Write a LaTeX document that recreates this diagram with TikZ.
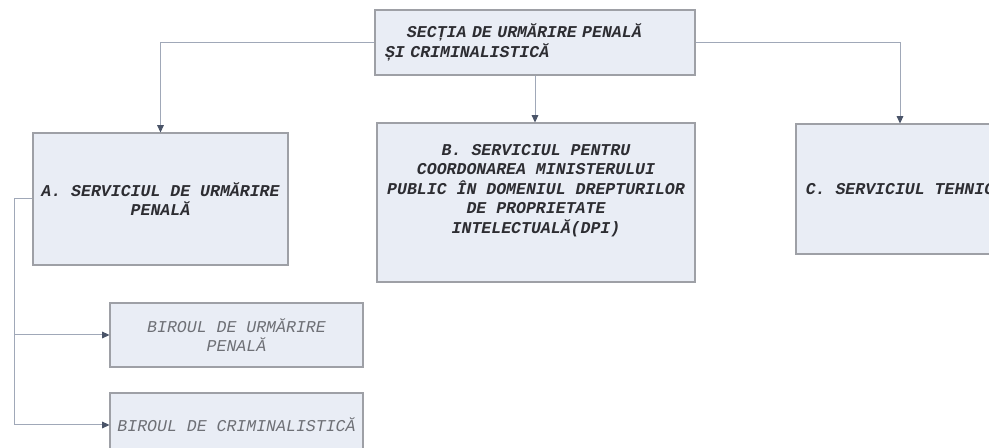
\documentclass[tikz,border=0pt]{standalone}
\usepackage{fontspec}
\newfontfamily\boxfont{Liberation Mono}
\usetikzlibrary{arrows.meta}
\definecolor{boxfill}{RGB}{233,237,245}
\definecolor{boxline}{RGB}{158,160,166}
\definecolor{connline}{RGB}{160,168,184}
\definecolor{tipcol}{RGB}{74,84,104}
\definecolor{maintext}{RGB}{45,45,50}
\definecolor{lighttext}{RGB}{110,112,118}
\tikzset{
  orgbox/.style={draw=boxline, line width=0.8pt, fill=boxfill, rectangle, inner sep=0pt,
    font=\boxfont\bfseries\itshape\fontsize{12.4}{14.6}\selectfont, text=maintext, align=center},
  officebox/.style={orgbox, font=\boxfont\itshape\fontsize{12.4}{14.6}\selectfont, text=lighttext},
  conn/.style={draw=connline, line width=0.75pt},
  arr/.style={conn, -{Triangle[length=5.5pt,width=5pt,color=tipcol]}}
}
\begin{document}
\begin{tikzpicture}[x=0.75pt,y=-0.75pt]
\useasboundingbox (0,0) rectangle (989,448);
\clip (0,0) rectangle (989,448);

\node[orgbox, minimum width=240pt, minimum height=48.75pt, text width=225pt, align=left]
  (top) at (535,42.5) {\hspace*{1.33em}SECȚIA DE URMĂRIRE PENALĂ\\ȘI CRIMINALISTICĂ};

\node[orgbox, minimum width=191.25pt, minimum height=99pt]
  (A) at (160.5,199) {A. SERVICIUL DE URMĂRIRE\\PENALĂ};

\node[orgbox, minimum width=238.5pt, minimum height=119.25pt]
  (B) at (536,202.5) {B. SERVICIUL PENTRU\\COORDONAREA MINISTERULUI\\PUBLIC ÎN DOMENIUL DREPTURILOR\\DE PROPRIETATE\\INTELECTUALĂ(DPI)\\[6pt]};

\node[orgbox, minimum width=156pt, minimum height=97.5pt]
  (C) at (900,189) {C. SERVICIUL TEHNIC};

\node[officebox, minimum width=189.75pt, minimum height=48pt]
  (b1) at (236.5,335) {BIROUL DE URMĂRIRE\\PENALĂ};

\node[officebox, minimum width=189.75pt, minimum height=48pt]
  (b2) at (236.5,425) {BIROUL DE CRIMINALISTICĂ};

\coordinate (jn) at (14,199);

\draw[arr] (top.west) -| (A.north);
\draw[arr] (top.east) -| (C.north);
\draw[arr] (top.south) -- (top.south |- B.north);
\draw[conn] (A.west) -- (jn);
\draw[arr] (jn) |- (b1.west);
\draw[arr] (jn) |- (b2.west);
\end{tikzpicture}
\end{document}
